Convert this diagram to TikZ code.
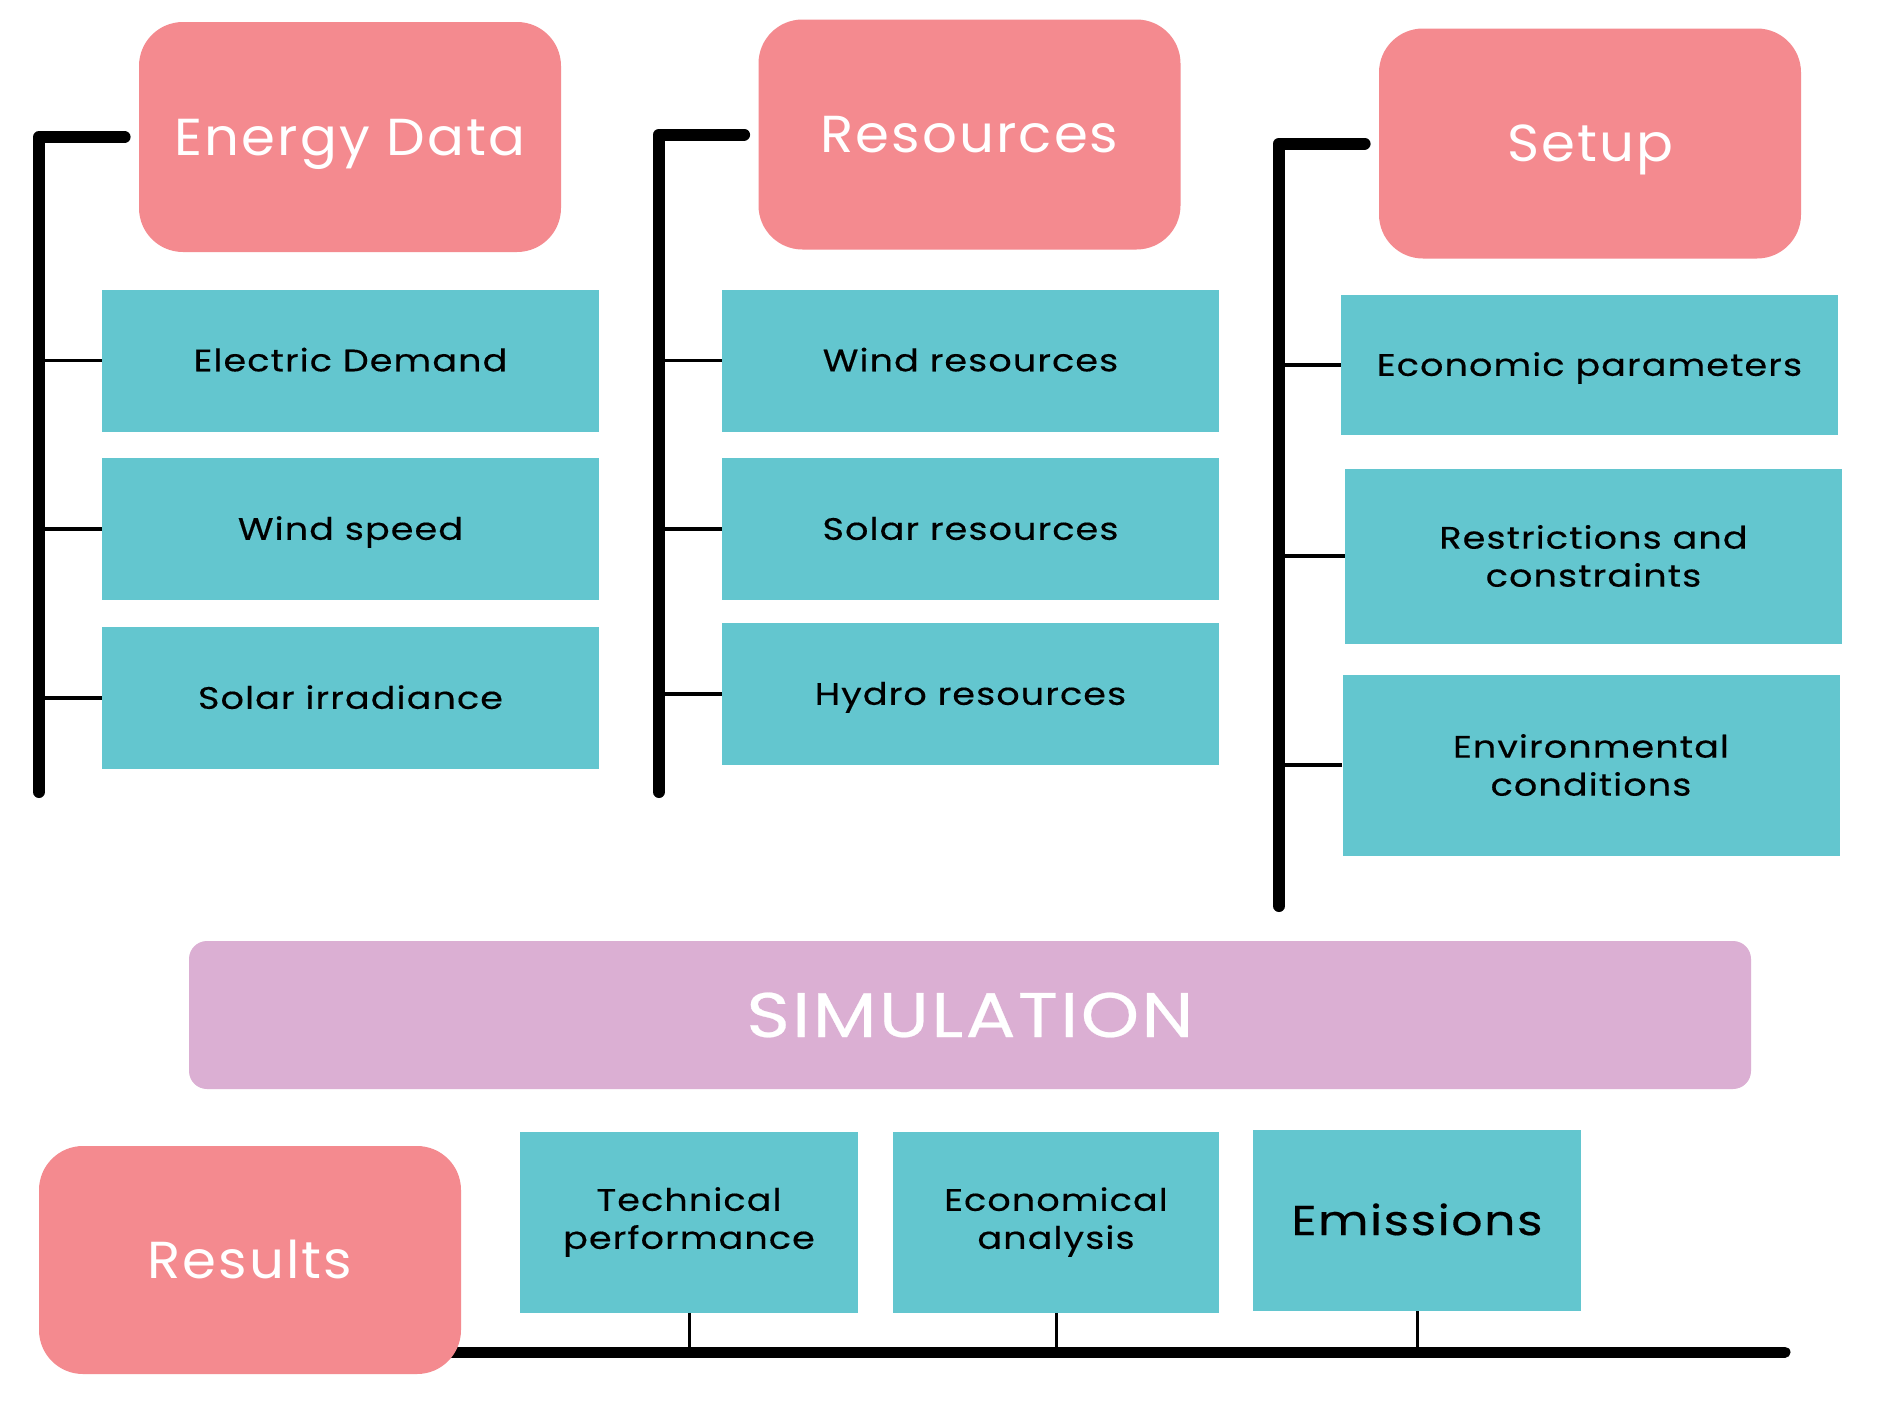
\documentclass[tikz,border=0pt]{standalone}
\usepackage{fontspec}
\setmainfont{Poppins}
\newfontfamily\headfont{Poppins}[FakeStretch=1.05,LetterSpace=4]
\newfontfamily\itemfont{Poppins}[FakeStretch=1.18,LetterSpace=3.5,FakeBold=0.4]
\definecolor{headpink}{RGB}{244,138,143}
\definecolor{itemteal}{RGB}{99,198,207}
\definecolor{simpurple}{RGB}{219,175,211}

\begin{document}
\begin{tikzpicture}[x=0.5pt,y=-0.5pt]
            \tikzstyle{head}=[rectangle,rounded corners=22pt,fill=headpink,text=white,font=\headfont\fontsize{26}{30}\selectfont,inner sep=0pt,minimum width=211pt,minimum height=115pt,text height=18pt,text depth=0pt]
            \tikzstyle{item}=[rectangle,fill=itemteal,text=black,font=\itemfont\fontsize{15.5}{19}\selectfont,align=center,inner sep=0pt,minimum width=248.5pt,minimum height=71pt]
            \tikzstyle{single}=[text height=10.8pt,text depth=0pt]
            \tikzstyle{spine}=[line width=6pt,line cap=round,line join=round]
            \tikzstyle{branch}=[line width=1.8pt]
            \useasboundingbox[fill=white] (0,0) rectangle (1880,1408);

                % energy data
                \node[head] (E-0) at (350,137) {Energy Data};
                \node[item,single] (E-1) at (350.5,360.5) {Electric Demand};
                \node[item,single] (E-2) at (350.5,529) {Wind speed};
                \node[item,single] (E-3) at (350.5,698) {Solar irradiance};
                \coordinate (E-top) at (39,137);
                \coordinate (E-bot) at (39,792);

                % resources
                \node[head] (R-0) at (969.5,134.5) {Resources};
                \node[item,single] (R-1) at (970.5,360.5) {Wind resources};
                \node[item,single] (R-2) at (970.5,529) {Solar resources};
                \node[item,single] (R-3) at (970.5,694) {Hydro resources};
                \coordinate (R-top) at (659,134.5);
                \coordinate (R-bot) at (659,792);

                % setup
                \node[head] (S-0) at (1590,143.5) {Setup};
                \node[item,single,minimum height=70pt] (S-1) at (1589.5,365) {Economic parameters};
                \node[item,minimum height=87.5pt] (S-2) at (1593.5,556) {Restrictions and\\constraints};
                \node[item,minimum height=90.5pt] (S-3) at (1591,765) {Environmental\\conditions};
                \coordinate (S-top) at (1279,143.5);
                \coordinate (S-bot) at (1279,906);

                \foreach \col in {E, R, S}
                {
                    \draw[spine,shorten >=7pt] (\col-bot) -- (\col-top) -- (\col-0.west);
                    \foreach \i in {1,2,3}
                        \draw[branch] (\col-\i.west) -- (\col-\i.west -| \col-top);
                }

                % simulation
                \node[rectangle,rounded corners=9pt,fill=simpurple,text=white,font=\itemfont\fontsize{31.5}{36}\selectfont,minimum width=781pt,minimum height=74pt] (SIM) at (970,1015) {SIMULATION};

                % results
                \coordinate (T-start) at (420,1352);
                \coordinate (T-end) at (1785,1352);
                \draw[line width=5.5pt,line cap=round] (T-start) -- (T-end);
                \node[head,minimum height=114pt] (RES) at (250,1260) {Results};
                \node[item,minimum width=169pt,minimum height=90.5pt] (T-1) at (689,1222) {Technical\\performance};
                \node[item,minimum width=163pt,minimum height=90.5pt] (T-2) at (1056,1222) {Economical\\analysis};
                \node[item,single,minimum width=164pt,minimum height=90.5pt,font=\itemfont\fontsize{20.8}{24}\selectfont,text height=14.5pt] (T-3) at (1417,1220.5) {Emissions};
                \foreach \i in {1,2,3}
                    \draw[line width=1.5pt] (T-\i.south) -- (T-\i.south |- T-end);
        \end{tikzpicture}
\end{document}
